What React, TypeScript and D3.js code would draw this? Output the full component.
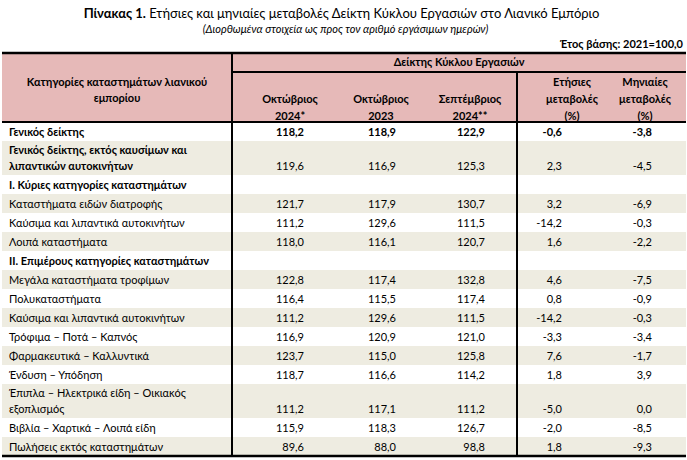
import React from "react";
import * as d3 from "d3";

const categories: string[][] = [
  ["Γενικός δείκτης"],
  ["Γενικός δείκτης, εκτός καυσίμων και", "λιπαντικών αυτοκινήτων"],
  ["I. Κύριες κατηγορίες καταστημάτων"],
  ["Καταστήματα ειδών διατροφής"],
  ["Καύσιμα και λιπαντικά αυτοκινήτων"],
  ["Λοιπά καταστήματα"],
  ["II. Επιμέρους κατηγορίες καταστημάτων"],
  ["Μεγάλα καταστήματα τροφίμων"],
  ["Πολυκαταστήματα"],
  ["Καύσιμα και λιπαντικά αυτοκινήτων"],
  ["Τρόφιμα – Ποτά – Καπνός"],
  ["Φαρμακευτικά – Καλλυντικά"],
  ["Ένδυση – Υπόδηση"],
  ["Έπιπλα – Ηλεκτρικά είδη – Οικιακός", "εξοπλισμός"],
  ["Βιβλία – Χαρτικά – Λοιπά είδη"],
  ["Πωλήσεις εκτός καταστημάτων"],
];
const boldLabel = [true, true, true, false, false, false, true, false, false, false, false, false, false, false, false, false];
const boldValues = [true, false, false, false, false, false, false, false, false, false, false, false, false, false, false, false];

const oct2024 = [118.2, 119.6, null, 121.7, 111.2, 118.0, null, 122.8, 116.4, 111.2, 116.9, 123.7, 118.7, 111.2, 115.9, 89.6];
const oct2023 = [118.9, 116.9, null, 117.9, 129.6, 116.1, null, 117.4, 115.5, 129.6, 120.9, 115.0, 116.6, 117.1, 118.3, 88.0];
const sep2024 = [122.9, 125.3, null, 130.7, 111.5, 120.7, null, 132.8, 117.4, 111.5, 121.0, 125.8, 114.2, 111.2, 126.7, 98.8];
const annualChange = [-0.6, 2.3, null, 3.2, -14.2, 1.6, null, 4.6, 0.8, -14.2, -3.3, 7.6, 1.8, -5.0, -2.0, 1.8];
const monthlyChange = [-3.8, -4.5, null, -6.9, -0.3, -2.2, null, -7.5, -0.9, -0.3, -3.4, -1.7, 3.9, 0.0, -8.5, -9.3];

const columnHeaders: string[][] = [
  ["Οκτώβριος", "2024*"],
  ["Οκτώβριος", "2023"],
  ["Σεπτέμβριος", "2024**"],
  ["Ετήσιες", "μεταβολές", "(%)"],
  ["Μηνιαίες", "μεταβολές", "(%)"],
];
const titleBold = "Πίνακας 1.";
const titleRest = " Ετήσιες και μηνιαίες μεταβολές Δείκτη Κύκλου Εργασιών στο Λιανικό Εμπόριο";
const subtitle = "(Διορθωμένα στοιχεία ως προς τον αριθμό εργάσιμων ημερών)";
const baseYear = "Έτος βάσης: 2021=100,0";
const groupHeader = "Δείκτης Κύκλου Εργασιών";
const firstHeader = ["Κατηγορίες καταστημάτων λιανικού", "εμπορίου"];

const W = 687;
const H = 460;
const FONT = "Lato, 'Open Sans', sans-serif";
const PINK = "#e6b9b8";
const GRAY = "#eeece1";

const locale = d3.formatLocale({ decimal: ",", thousands: ".", grouping: [3], currency: ["", "€"], minus: "-" });
const fmt = locale.format(".1f");

export default function App() {
  const left = 2, right = 686;
  const topBorder = 53, groupLine = 72, headerBottom = 122;
  const singleH = 19, doubleH = 34;
  const heights = categories.map((c) => (c.length > 1 ? doubleH : singleH));
  const cum = d3.cumsum(heights);
  const rowTop = (i: number) => headerBottom + (i === 0 ? 0 : cum[i - 1]);
  const bottom = headerBottom + cum[cum.length - 1];
  const div1 = 232, div2 = 517;

  const colCenters = [290, 381, 470, 572, 645];
  const colRight = [304, 396, 485, 562, 652];
  const series = [oct2024, oct2023, sep2024, annualChange, monthlyChange];

  const fs = 11;

  return (
    <div style={{ position: "absolute", left: 0, top: 0 }}>
      <svg width={W} height={H} style={{ display: "block", background: "#fff" }} fontFamily={FONT}>
        <text x={W / 2 - 2} y={18} textAnchor="middle" fontSize={13} fill="#000">
          <tspan fontWeight="bold">{titleBold}</tspan>
          <tspan>{titleRest}</tspan>
        </text>
        <text x={W / 2 + 2} y={33} textAnchor="middle" fontSize={11} fontStyle="italic" fill="#000">
          {subtitle}
        </text>
        <text x={683} y={48} textAnchor="end" fontSize={11} fontWeight="bold" fill="#000">
          {baseYear}
        </text>

        <rect x={left} y={topBorder} width={right - left} height={headerBottom - topBorder} fill={PINK} />

        {categories.map((c, i) => (
          <rect key={"bg" + i} x={left} y={rowTop(i)} width={right - left} height={heights[i]}
            fill={i % 2 === 1 ? GRAY : "#fff"} />
        ))}

        <text x={117} y={86} textAnchor="middle" fontSize={fs} fontWeight="bold">
          <tspan x={117}>{firstHeader[0]}</tspan>
          <tspan x={117} dy={16}>{firstHeader[1]}</tspan>
        </text>
        <text x={(div1 + right) / 2} y={66} textAnchor="middle" fontSize={fs} fontWeight="bold">{groupHeader}</text>
        {columnHeaders.map((h, j) => {
          const startY = 120 - (h.length - 1) * 17;
          return (
            <text key={"h" + j} textAnchor="middle" fontSize={fs} fontWeight="bold">
              {h.map((line, k) => (
                <tspan key={k} x={colCenters[j]} y={startY + k * 17}>{line}</tspan>
              ))}
            </text>
          );
        })}

        {categories.map((c, i) => {
          const b = rowTop(i) + heights[i] - 5;
          return (
            <g key={"row" + i}>
              <text fontSize={fs} fontWeight={boldLabel[i] ? "bold" : "normal"}>
                {c.map((line, k) => (
                  <tspan key={k} x={9} y={b - (c.length - 1 - k) * 16}>{line}</tspan>
                ))}
              </text>
              {series.map((s, j) =>
                s[i] === null ? null : (
                  <text key={j} x={colRight[j]} y={b} textAnchor="end" fontSize={fs}
                    fontWeight={boldValues[i] ? "bold" : "normal"}>
                    {fmt(s[i] as number)}
                  </text>
                )
              )}
            </g>
          );
        })}

        <line x1={left} x2={right} y1={topBorder} y2={topBorder} stroke="#000" strokeWidth={2.5} />
        <line x1={div1} x2={right} y1={groupLine} y2={groupLine} stroke="#000" strokeWidth={2} />
        <line x1={left} x2={right} y1={headerBottom} y2={headerBottom} stroke="#000" strokeWidth={2} />
        <line x1={left} x2={right} y1={bottom} y2={bottom} stroke="#000" strokeWidth={2.5} />
        <line x1={div1} x2={div1} y1={topBorder} y2={bottom} stroke="#000" strokeWidth={2} />
        <line x1={div2} x2={div2} y1={groupLine} y2={bottom} stroke="#000" strokeWidth={2} />
      </svg>
    </div>
  );
}
